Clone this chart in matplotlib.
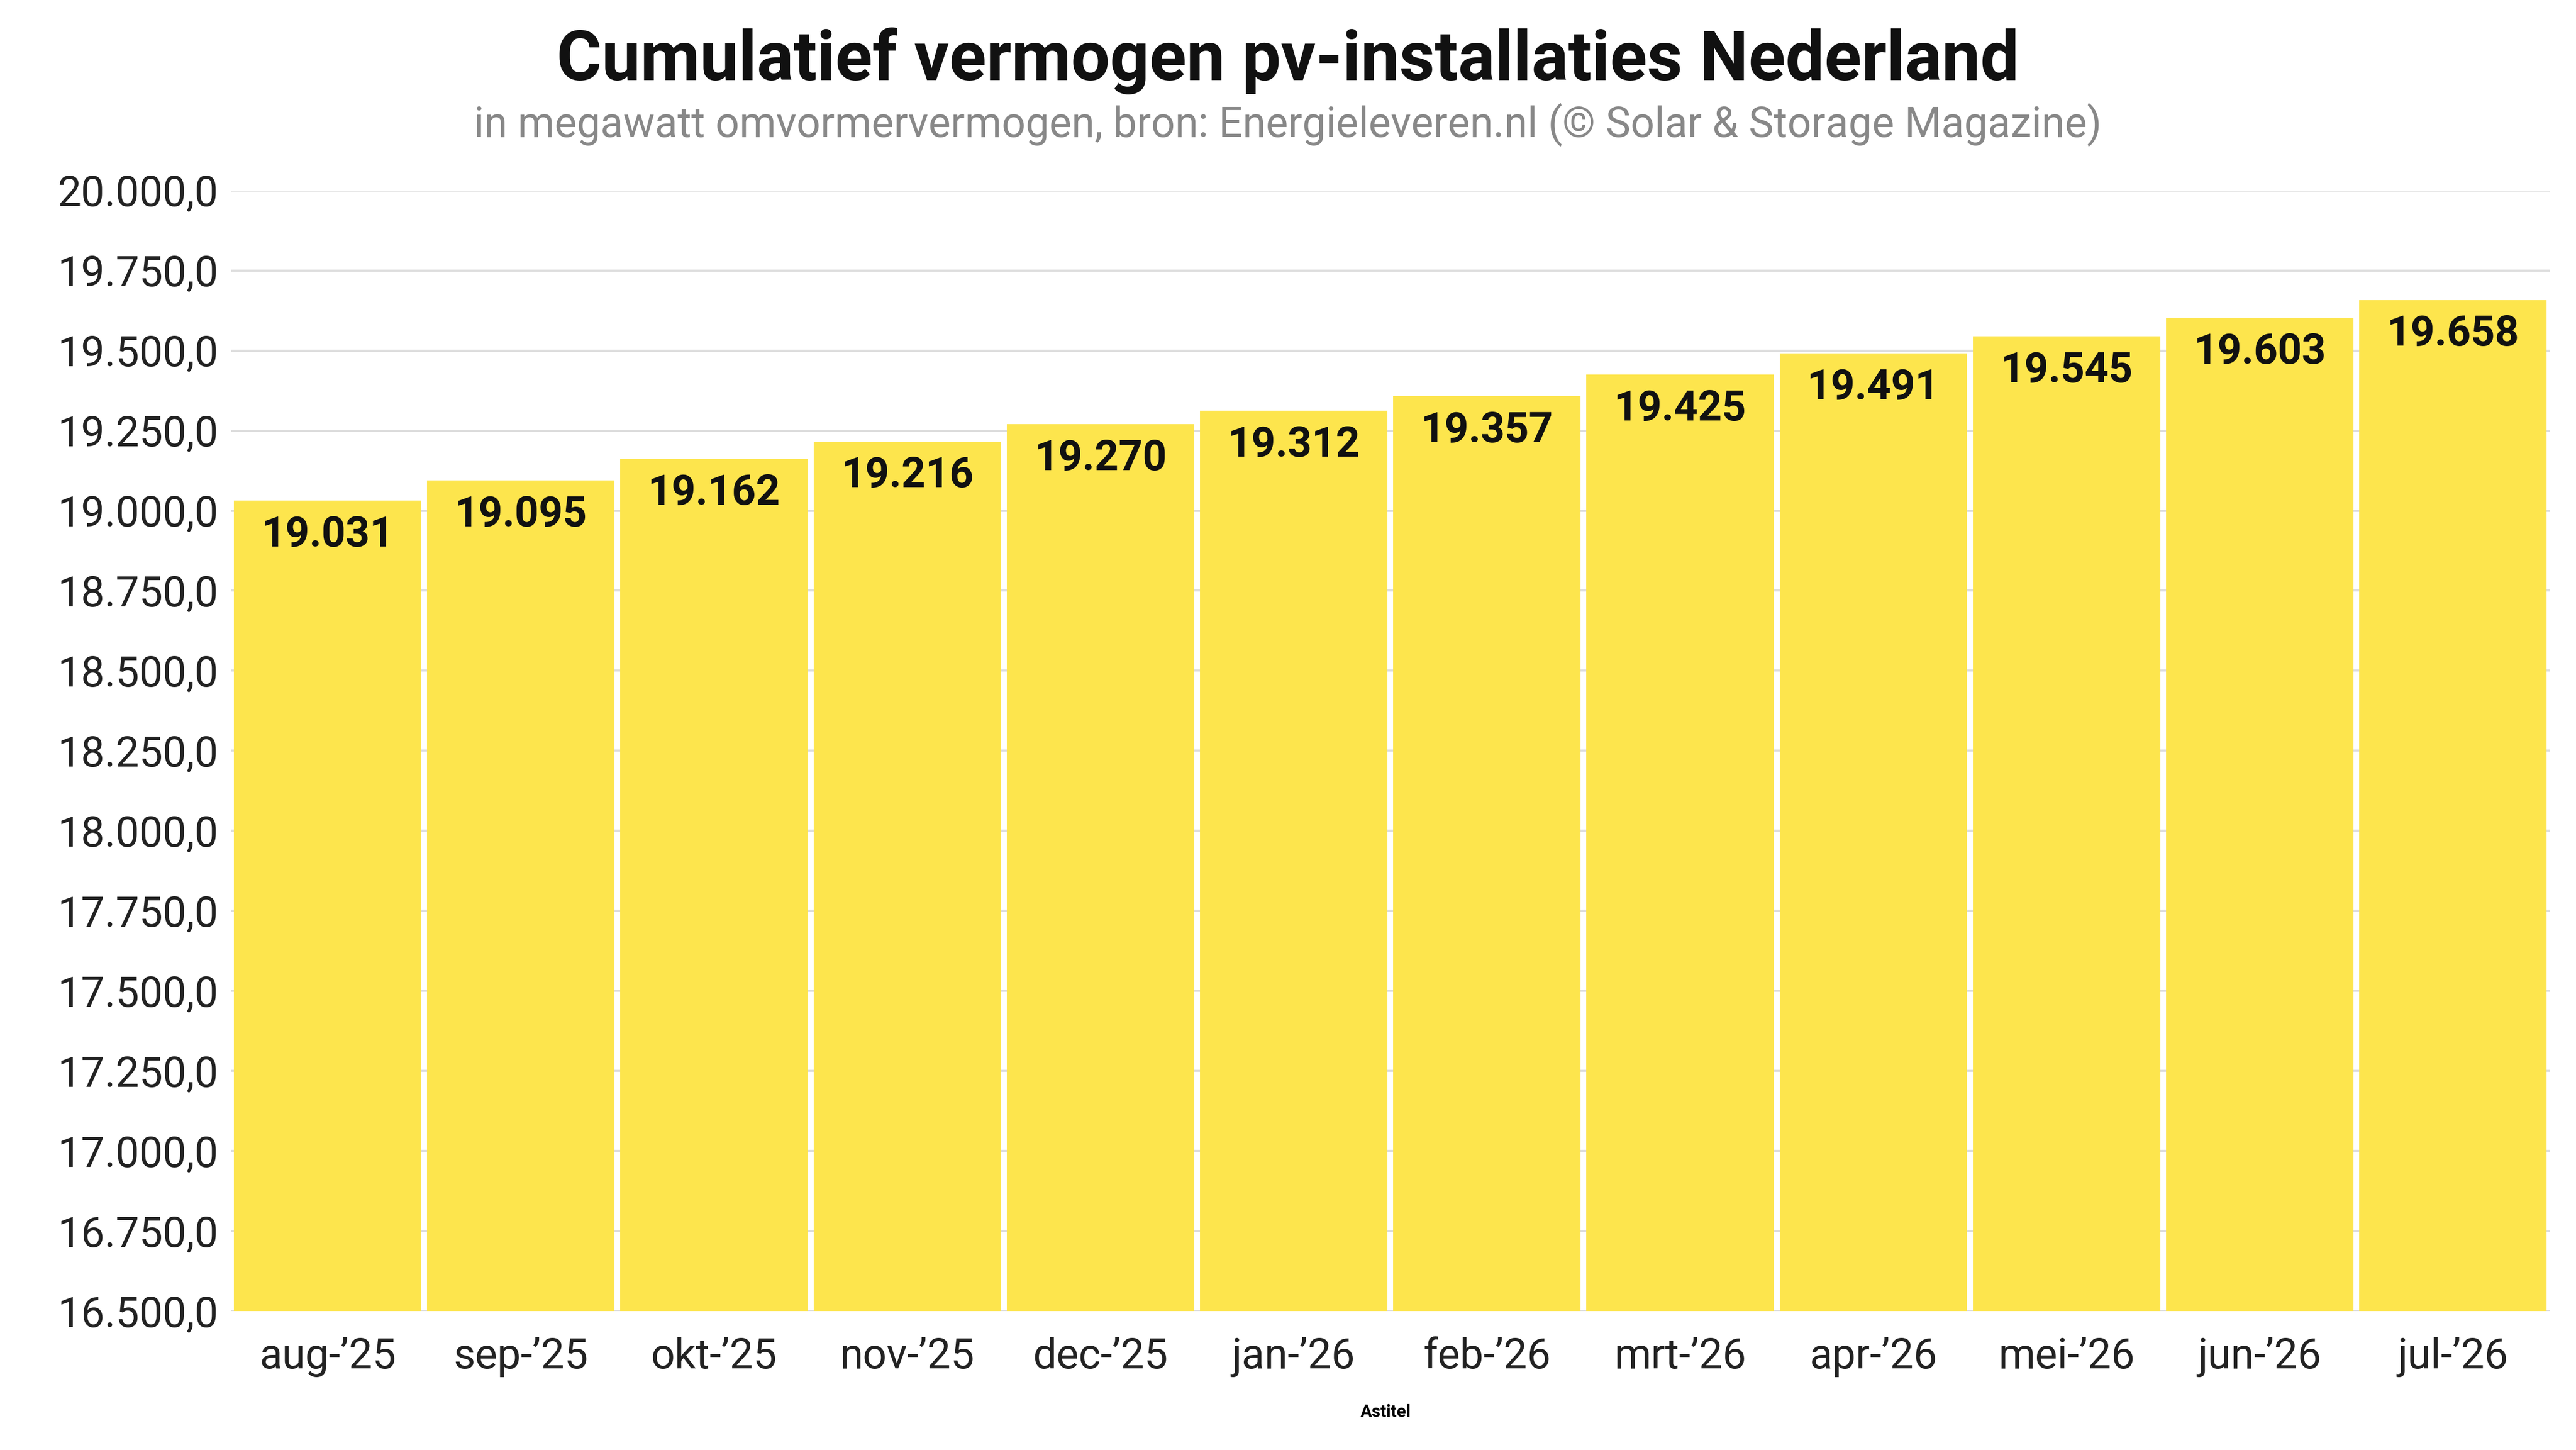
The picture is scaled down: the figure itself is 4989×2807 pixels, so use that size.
import matplotlib.pyplot as plt
import matplotlib.ticker as mticker

plt.rcParams['font.family'] = ['Roboto', 'DejaVu Sans']

maanden = ["aug-’25", "sep-’25", "okt-’25", "nov-’25", "dec-’25", "jan-’26",
           "feb-’26", "mrt-’26", "apr-’26", "mei-’26", "jun-’26", "jul-’26"]
vermogen = [19031, 19095, 19162, 19216, 19270, 19312, 19357, 19425, 19491, 19545, 19603, 19658]

fig = plt.figure(figsize=(4989/300, 2807/300), dpi=300)
ax = fig.add_axes([0.0897, 0.0957, 0.9, 0.773])

x = range(len(maanden))
ax.bar(x, vermogen, width=0.97, color='#FDE54D', zorder=2)
for i, v in zip(x, vermogen):
    ax.text(i, v - 45, f"{v/1000:.3f}", ha='center', va='top',
            fontsize=19.5, fontweight='bold', color='#111111', zorder=3)

ax.set_ylim(16500, 20000)
ax.set_xlim(-0.5, len(maanden) - 0.5)
ax.yaxis.set_major_locator(mticker.MultipleLocator(250))
ax.yaxis.set_major_formatter(mticker.FuncFormatter(
    lambda v, p: f"{v:,.1f}".replace(",", "X").replace(".", ",").replace("X", ".")))
ax.set_xticks(list(x))
ax.set_xticklabels(maanden)
ax.tick_params(axis='both', length=0, labelsize=19.5, colors='#222222')
ax.tick_params(axis='x', pad=12)
ax.tick_params(axis='y', pad=6)
ax.grid(axis='y', color='#dddddd', linewidth=1, zorder=0)
for s in ax.spines.values():
    s.set_visible(False)

fig.text(0.5, 0.958, "Cumulatief vermogen pv-installaties Nederland", ha='center',
         va='center', fontsize=32, fontweight='bold', color='#111111')
fig.text(0.5, 0.914, "in megawatt omvormervermogen, bron: Energieleveren.nl (© Solar & Storage Magazine)",
         ha='center', va='center', fontsize=19.5, color='#888888')
fig.text(0.538, 0.026, "Astitel", ha='center', va='center', fontsize=8, fontweight='bold')

fig.savefig("out.png", dpi=300)
